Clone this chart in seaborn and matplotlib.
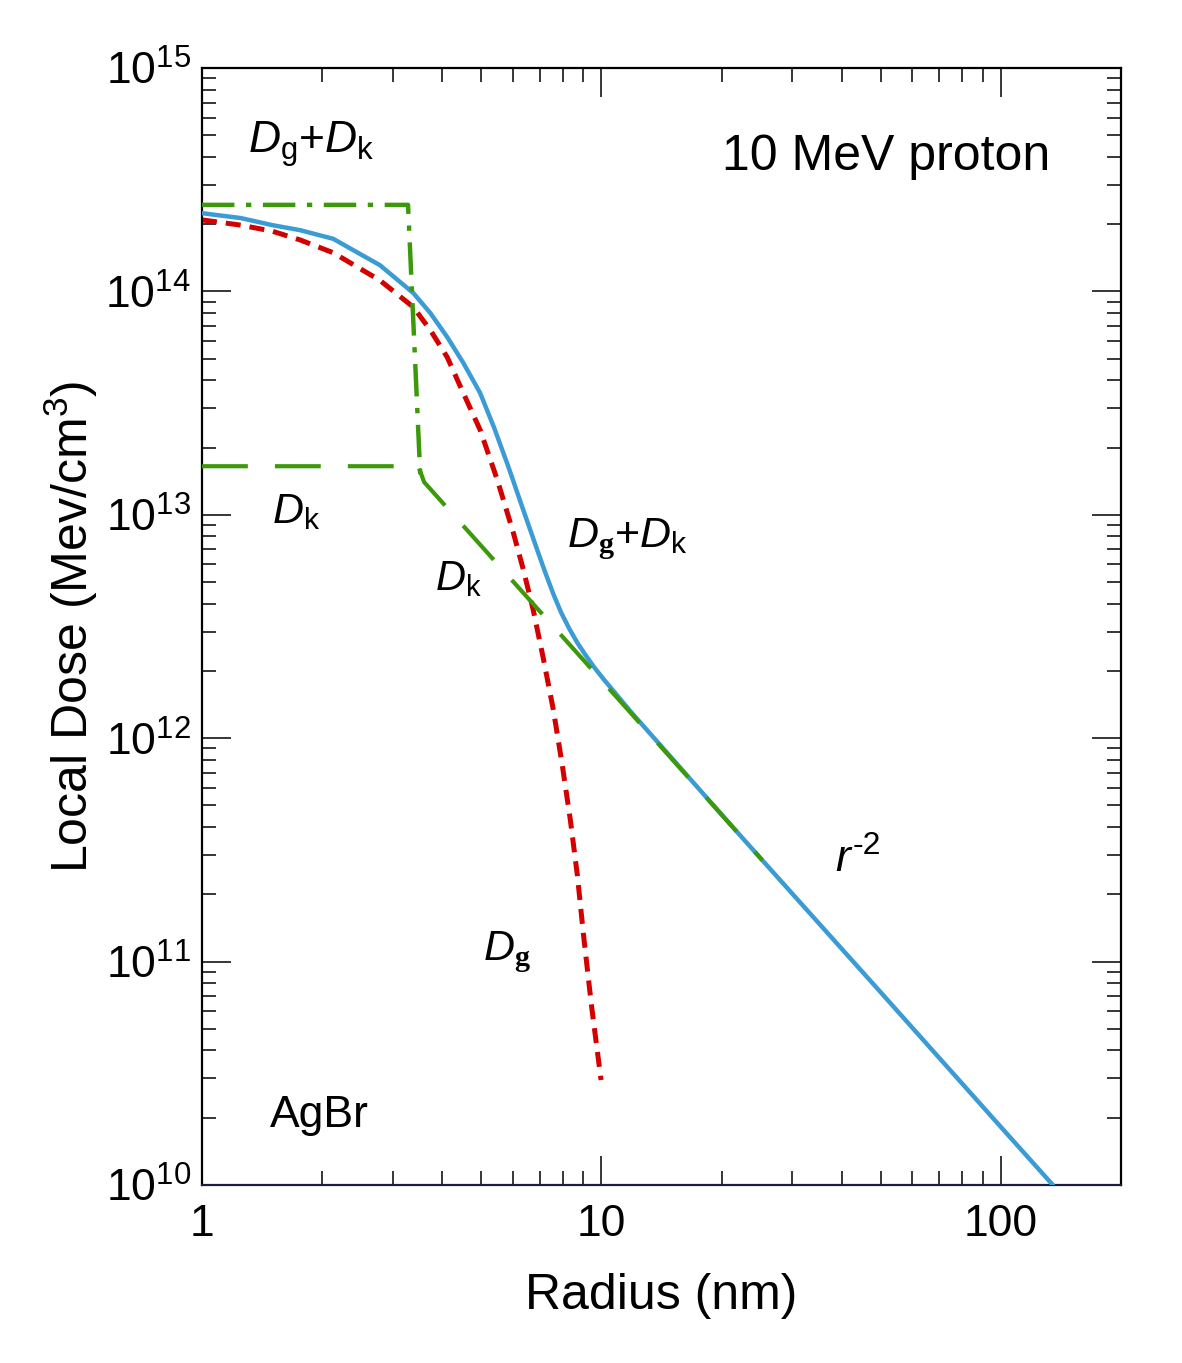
import matplotlib

matplotlib.use("Agg")

import matplotlib.pyplot as plt
import numpy as np
import pandas as pd
import seaborn as sns
from matplotlib.ticker import LogLocator, NullFormatter

# radius (nm) and local dose (MeV/cm^3)
TOTAL_R = [1.0, 1.25, 1.5, 1.76, 2.13, 2.79, 3.38, 3.73, 4.11, 4.51, 4.97, 5.39, 5.85, 6.34, 6.91,
           7.24, 7.58, 7.94, 8.32, 8.71, 9.12, 9.55, 10.12, 10.84, 11.82, 20.0, 25.3, 50.0, 100.0, 135.0]
TOTAL_DOSE = [2.24e14, 2.13e14, 1.98e14, 1.88e14, 1.72e14, 1.31e14, 9.84e13, 8.0e13, 6.25e13, 4.79e13,
              3.51e13, 2.45e13, 1.64e13, 1.08e13, 6.95e12, 5.50e12, 4.42e12, 3.63e12, 3.08e12,
              2.67e12, 2.36e12, 2.10e12, 1.84e12, 1.59e12, 1.32e12, 4.55e11, 2.84e11, 7.30e10,
              1.82e10, 1.0e10]

DG_R = [1.0, 1.25, 1.5, 1.76, 2.13, 2.79, 3.38, 3.73, 4.11, 4.51, 4.97, 5.49, 6.02, 6.38, 6.75, 7.15,
        7.58, 7.98, 8.36, 8.71, 9.01, 9.44, 9.98]
DG_DOSE = [2.09e14, 1.98e14, 1.86e14, 1.70e14, 1.49e14, 1.12e14, 8.51e13, 6.71e13, 5.08e13, 3.51e13,
           2.40e13, 1.43e13, 8.30e12, 5.66e12, 3.75e12, 2.29e12, 1.34e12, 7.59e11, 4.31e11,
           2.42e11, 1.34e11, 6.40e10, 2.95e10]

DK_R = [1.0, 3.48, 3.6, 10.0, 25.3]
DK_DOSE = [1.65e13, 1.65e13, 1.40e13, 1.82e12, 2.84e11]

STEP_R = [1.0, 3.28, 3.52]
STEP_DOSE = [2.44e14, 2.44e14, 1.50e13]

X_TICKS = [1, 10, 100]
X_TICK_LABELS = ["1", "10", "100"]

BLUE = "#3a9bd5"
RED = "#d40000"
GREEN = "#3c9a0a"


def line(ax, r, dose, **kw):
    df = pd.DataFrame({"r": r, "dose": dose})
    sns.lineplot(data=df, x="r", y="dose", ax=ax, sort=False, estimator=None, **kw)


def main() -> None:
    sns.set_theme(style="ticks")
    plt.rcParams["font.family"] = ["Liberation Sans", "DejaVu Sans"]
    plt.rcParams["mathtext.fontset"] = "custom"
    plt.rcParams["mathtext.rm"] = "Liberation Sans"
    plt.rcParams["mathtext.it"] = "Liberation Sans:italic"
    plt.rcParams["mathtext.bf"] = "Liberation Serif:bold"
    for key in ["text.color", "axes.labelcolor", "xtick.color", "ytick.color", "axes.edgecolor"]:
        plt.rcParams[key] = "black"

    fig = plt.figure(figsize=(11.82, 13.63), dpi=100)
    ax = fig.add_axes([0.1709, 0.1306, 0.7775, 0.8195])
    ax.set_xscale("log")
    ax.set_yscale("log")

    line(ax, DG_R, DG_DOSE, color=RED, lw=3.6, linestyle=(0, (3.0, 1.8)), zorder=2)
    line(ax, TOTAL_R, TOTAL_DOSE, color=BLUE, lw=3.2, zorder=3)
    line(ax, DK_R, DK_DOSE, color=GREEN, lw=3.0, linestyle=(0, (11, 6.5)), zorder=4)
    line(ax, STEP_R, STEP_DOSE, color=GREEN, lw=3.2, linestyle=(0, (7.3, 2.6, 1.2, 2.6)), zorder=4)

    ax.set_xlim(1, 200)
    ax.set_ylim(1e10, 1e15)
    ax.set_xticks(X_TICKS, labels=X_TICK_LABELS)
    ax.xaxis.set_minor_locator(LogLocator(base=10, subs=np.arange(2, 10)))
    ax.xaxis.set_minor_formatter(NullFormatter())
    ax.yaxis.set_major_locator(LogLocator(base=10, numticks=10))
    ax.yaxis.set_minor_locator(LogLocator(base=10, subs=np.arange(2, 10), numticks=20))
    ax.yaxis.set_minor_formatter(NullFormatter())

    ax.tick_params(which="both", direction="in", top=True, right=True, width=1.1)
    ax.tick_params(which="major", length=21, labelsize=32, pad=8)
    ax.tick_params(which="minor", length=10)
    ax.tick_params(axis="x", which="major", pad=14)
    for side in ["left", "right", "top"]:
        ax.spines[side].set_linewidth(1.6)
    ax.spines["bottom"].set_linewidth(1.6)
    ax.spines["bottom"].set_color("#1c1c3c")

    ax.set_xlabel("Radius (nm)", fontsize=36, labelpad=20)
    ax.set_ylabel(r"Local Dose (Mev/cm$^3$)", fontsize=36, labelpad=4)

    ax.text(1.30, 4.17e14, r"$D_\mathrm{g}$+$D_\mathrm{k}$", fontsize=32)
    ax.text(20.1, 3.49e14, "10 MeV proton", fontsize=36)
    ax.text(1.50, 9.2e12, r"$D_\mathrm{k}$", fontsize=31)
    ax.text(3.84, 4.6e12, r"$D_\mathrm{k}$", fontsize=30)
    ax.text(8.22, 7.18e12, r"$D_\mathbf{g}$+$D_\mathrm{k}$", fontsize=31)
    ax.text(5.06, 1.02e11, r"$D_\mathbf{g}$", fontsize=31)
    ax.text(38.6, 2.55e11, "r", style="italic", fontsize=32)
    ax.annotate("-2", xy=(38.6, 2.55e11), xytext=(12.5, 12), textcoords="offset points", fontsize=23)
    ax.text(1.48, 1.82e10, "AgBr", fontsize=32)

    fig.savefig("out.png", dpi=100, facecolor="white")
    plt.close(fig)


if __name__ == "__main__":
    main()
